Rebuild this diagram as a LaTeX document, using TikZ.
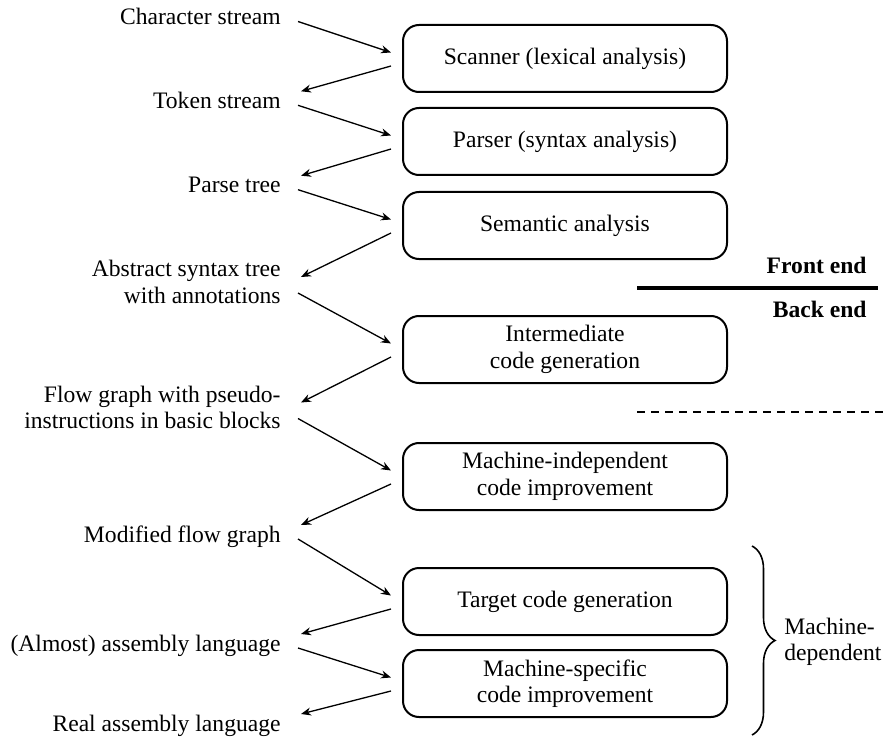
\documentclass[tikz,border=0pt]{standalone}
\usepackage{fontspec}
\setmainfont{Liberation Serif}
\usetikzlibrary{arrows.meta, calc, decorations.pathreplacing}
\tikzset{
  font=\fontsize{11.8}{13.3}\selectfont,       % body text size
  phase/.style   = {rectangle, draw, line width=1pt, rounded corners=8pt,
                    minimum width=162pt, minimum height=33.5pt,
                    inner sep=2pt, align=center},
  data/.style    = {inner sep=0pt, align=right},
  endlabel/.style= {font=\fontsize{11.8}{13.3}\selectfont\bfseries,
                    anchor=base east, inner sep=0pt},
  arrow/.style   = {-{Stealth[length=5pt,width=4pt]}, line width=0.65pt}
}
\begin{document}
\begin{tikzpicture}[x=0.5pt, y=-0.5pt]
  \useasboundingbox (0,0) rectangle (895,738);
  \node[phase] (scan)   at (565,58.5)  {Scanner (lexical analysis)};
  \node[phase] (parse)  at (565,141.5) {Parser (syntax analysis)};
  \node[phase] (sem)    at (565,225.5) {Semantic analysis};
  \node[phase] (inter)  at (565,349.5) {Intermediate\\code generation};
  \node[phase] (mindep) at (565,476.5) {Machine-independent\\code improvement};
  \node[phase] (target) at (565,601.5) {Target code generation};
  \node[phase] (mspec)  at (565,683.5) {Machine-specific\\code improvement};
  \node[data, anchor=base east] (chars)   at (281,24.5)  {Character stream};
  \node[data, anchor=base east] (tokens)  at (281,108.3) {Token stream};
  \node[data, anchor=base east] (ptree)   at (281,192.7) {Parse tree};
  \node[data, anchor=east]      (ast)     at (281,282)   {Abstract syntax tree\\with annotations};
  \node[data, anchor=east]      (flow)    at (281,407.5) {Flow graph with pseudo-\\instructions in basic blocks};
  \node[data, anchor=base east] (mflow)   at (281,542)   {Modified flow graph};
  \node[data, anchor=base east] (asm)     at (281,651)   {(Almost) assembly language};
  \node[data, anchor=base east] (realasm) at (281,731)   {Real assembly language};
  \draw[arrow] ($(chars.base east)+(17,-3)$) -- ($(scan.west)+(-11,-6)$);
  \draw[arrow] ($(scan.west)+(-11,7.5)$) -- ($(tokens.base east)+(20,-17)$);
  \draw[arrow] ($(tokens.base east)+(17,-3)$) -- ($(parse.west)+(-11,-6)$);
  \draw[arrow] ($(parse.west)+(-11,7.5)$) -- ($(ptree.base east)+(20,-17)$);
  \draw[arrow] ($(ptree.base east)+(17,-3)$) -- ($(sem.west)+(-11,-6)$);
  \draw[arrow] ($(sem.west)+(-11,7.5)$) -- ($(ast.north east)+(20,17)$);
  \draw[arrow] ($(ast.south east)+(17,-11)$) -- ($(inter.west)+(-11,-6)$);
  \draw[arrow] ($(inter.west)+(-11,7.5)$) -- ($(flow.north east)+(20,17)$);
  \draw[arrow] ($(flow.south east)+(17,-11)$) -- ($(mindep.west)+(-11,-6)$);
  \draw[arrow] ($(mindep.west)+(-11,7.5)$) -- ($(mflow.base east)+(20,-17)$);
  \draw[arrow] ($(mflow.base east)+(17,-3)$) -- ($(target.west)+(-11,-6)$);
  \draw[arrow] ($(target.west)+(-11,7.5)$) -- ($(asm.base east)+(20,-17)$);
  \draw[arrow] ($(asm.base east)+(17,-3)$) -- ($(mspec.west)+(-11,-6)$);
  \draw[arrow] ($(mspec.west)+(-11,7.5)$) -- ($(realasm.base east)+(20,-17)$);
  \node[endlabel] (front) at (867,273) {Front end};
  \node[endlabel] (back)  at (867,317) {Back end};
  \draw[line width=2pt] (637,288) -- (878,288);
  \draw[line width=0.75pt, dash pattern=on 4pt off 3pt] (637,412) -- (883,412);
  \draw[line width=0.8pt, decorate, decoration={brace, amplitude=11.5pt}] (752,546) -- (752,735);
  \node[anchor=west, align=left, inner sep=0pt] (machdep) at (784,642) {Machine-\\dependent};
\end{tikzpicture}
\end{document}
